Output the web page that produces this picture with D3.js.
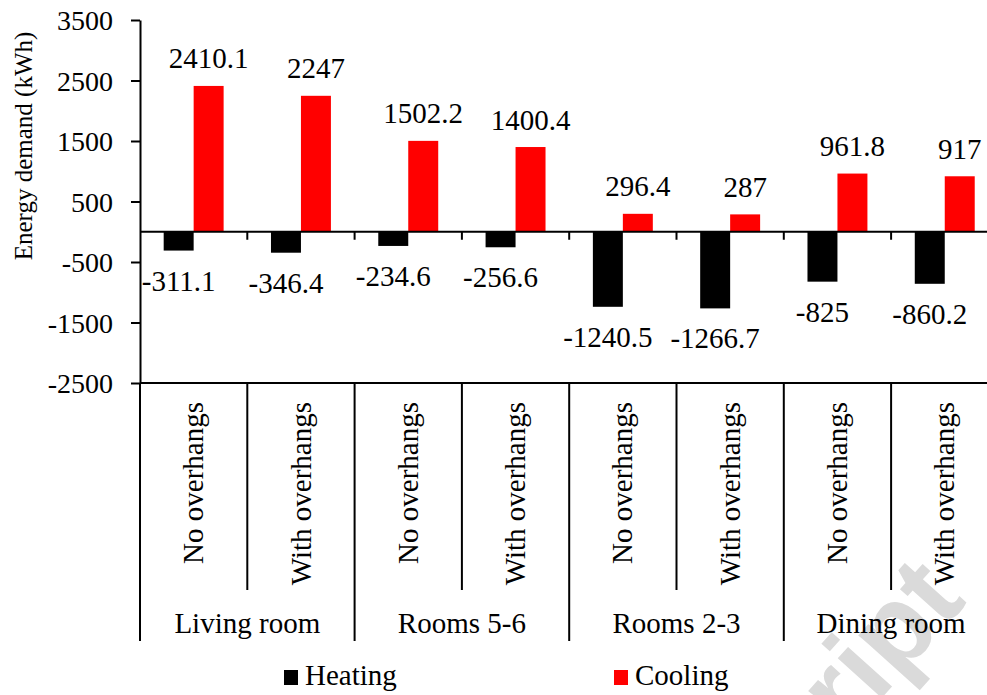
<!DOCTYPE html>
<html lang="en">
  <head>
    <meta charset="utf-8">
    <title>Energy demand</title>
    <script src="https://d3js.org/d3.v7.min.js"></script>
    <style>
      body { margin: 0; background: #fff; }
      #chart text { font-family: "Liberation Serif", "Times New Roman", serif; fill: #000; }
      #chart .domain, #chart .tick line { stroke: #000; stroke-width: 2; }
    </style>
  </head>
  <body>
    <div id="chart"></div>
    <script type="text/javascript">
      "use strict"
      // data
      var grupos = ['Living room', 'Rooms 5-6', 'Rooms 2-3', 'Dining room'];
      var casos = ['No overhangs', 'With overhangs'];
      var series = ['Heating', 'Cooling'];
      var aquecimento = [-311.1, -346.4, -234.6, -256.6, -1240.5, -1266.7, -825, -860.2];
      var resfriamento = [2410.1, 2247, 1502.2, 1400.4, 296.4, 287, 961.8, 917];
      var ticksY = [-2500, -1500, -500, 500, 1500, 2500, 3500];
      var cores = ['#000000', '#ff0000'];

      var larguraSVG = 987, alturaSVG = 695;
      var margin = {top: 20, left: 140},
          alturaVis = 363,
          larguraBanda = 107.3;

      // one row per bar slot (group x case)
      var slots = [];
      grupos.forEach(function(g, gi) {
        casos.forEach(function(c, ci) {
          slots.push({id: g + '|' + c, grupo: g, caso: c, i: gi * casos.length + ci});
        });
      });
      var dados = slots.map(function(s) {
        return {id: s.id, caso: s.caso, valores: [
          {serie: series[0], valor: aquecimento[s.i]},
          {serie: series[1], valor: resfriamento[s.i]}
        ]};
      });

      var svg = d3.select('#chart').append('svg')
        .attr('width', larguraSVG)
        .attr('height', alturaSVG);

      // faint watermark from the source page
      svg.append('text')
        .attr('transform', 'translate(968,602) rotate(-48)')
        .attr('text-anchor', 'end')
        .style('font-family', '"Liberation Sans", Arial, sans-serif')
        .style('font-weight', 'bold')
        .style('font-size', '112px')
        .style('fill', '#dadada')
        .text('Manuscript');

      var grafico = svg.append('g')
        .attr('transform', 'translate(' + margin.left + ',' + margin.top + ')');

      /*
       * scales
       */
      var x = d3.scaleBand()
        .domain(slots.map(s => s.id))
        .range([0, larguraBanda * slots.length])
        .padding(0);
      var x1 = d3.scaleBand()
        .domain(series)
        .range([0, x.bandwidth()])
        .paddingInner(0)
        .paddingOuter(0.79);
      var y = d3.scaleLinear()
        .domain([-2500, 3500])
        .range([alturaVis, 0]);
      var cor = d3.scaleOrdinal().domain(series).range(cores);

      /*
       * bars
       */
      var slot = grafico.selectAll('g.slot')
        .data(dados)
        .enter().append('g')
          .attr('class', 'slot')
          .attr('transform', d => 'translate(' + x(d.id) + ',0)');

      slot.selectAll('rect')
        .data(d => d.valores)
        .enter().append('rect')
          .attr('x', d => x1(d.serie))
          .attr('width', x1.bandwidth())
          .attr('y', d => y(Math.max(0, d.valor)))
          .attr('height', d => Math.abs(y(d.valor) - y(0)))
          .attr('fill', d => cor(d.serie));

      // value labels
      slot.selectAll('text.valor')
        .data(d => d.valores)
        .enter().append('text')
          .attr('class', 'valor')
          .attr('x', d => x1(d.serie) + x1.bandwidth() / 2)
          .attr('y', d => d.valor >= 0 ? y(d.valor) - 17.5 : y(d.valor) + 40)
          .attr('text-anchor', 'middle')
          .style('font-size', '29px')
          .text(d => d.valor);

      /*
       * axes
       */
      var eixoY = grafico.append('g')
        .call(d3.axisLeft(y).tickValues(ticksY).tickFormat(d => String(d))
          .tickSize(9).tickPadding(18).tickSizeOuter(0));
      eixoY.selectAll('text').style('font-size', '28px').attr('dy', '0.34em');

      // zero line with ticks hanging down at slot borders
      var fimX = larguraBanda * slots.length;
      var eixoZero = grafico.append('g')
        .attr('transform', 'translate(0,' + y(0) + ')');
      eixoZero.append('line')
        .attr('x1', 0).attr('x2', fimX)
        .attr('stroke', '#000').attr('stroke-width', 2);
      eixoZero.selectAll('line.t')
        .data(slots.slice(1))
        .enter().append('line')
          .attr('class', 't')
          .attr('x1', d => x(d.id)).attr('x2', d => x(d.id))
          .attr('y1', 0).attr('y2', 8)
          .attr('stroke', '#000').attr('stroke-width', 2);

      // category axis at the bottom
      var eixoX = grafico.append('g')
        .attr('transform', 'translate(0,' + alturaVis + ')');
      eixoX.append('line')
        .attr('x1', 0).attr('x2', fimX)
        .attr('stroke', '#000').attr('stroke-width', 2);
      eixoX.selectAll('line.sep')
        .data(slots.concat([{id: null, i: slots.length}]))
        .enter().append('line')
          .attr('class', 'sep')
          .attr('x1', d => d.i * larguraBanda).attr('x2', d => d.i * larguraBanda)
          .attr('y1', 0)
          .attr('y2', d => d.i % casos.length === 0 ? 258 : 207)
          .attr('stroke', '#000').attr('stroke-width', 2);

      eixoX.selectAll('text.caso')
        .data(slots)
        .enter().append('text')
          .attr('class', 'caso')
          .attr('transform', d => 'translate(' + (x(d.id) + x.bandwidth() / 2) + ',19) rotate(-90)')
          .attr('text-anchor', 'end')
          .attr('dy', '0.33em')
          .style('font-size', '29px')
          .text(d => d.caso);

      eixoX.selectAll('text.grupo')
        .data(grupos)
        .enter().append('text')
          .attr('class', 'grupo')
          .attr('x', (d, i) => (i + 0.5) * casos.length * larguraBanda)
          .attr('y', 250)
          .attr('text-anchor', 'middle')
          .style('font-size', '29px')
          .text(d => d);

      // axis title
      svg.append('text')
        .attr('transform', 'translate(32,146) rotate(-90)')
        .attr('text-anchor', 'middle')
        .style('font-size', '25px')
        .text('Energy demand (kWh)');

      /*
       * legend
       */
      var posLegenda = [284, 614];
      var legenda = svg.selectAll('g.legenda')
        .data(series)
        .enter().append('g')
          .attr('class', 'legenda')
          .attr('transform', (d, i) => 'translate(' + posLegenda[i] + ',670)');
      legenda.append('rect')
        .attr('width', 14).attr('height', 15)
        .attr('fill', d => cor(d));
      legenda.append('text')
        .attr('x', 21).attr('y', 15)
        .style('font-size', '29px')
        .text(d => d);
    </script>
  </body>
</html>
